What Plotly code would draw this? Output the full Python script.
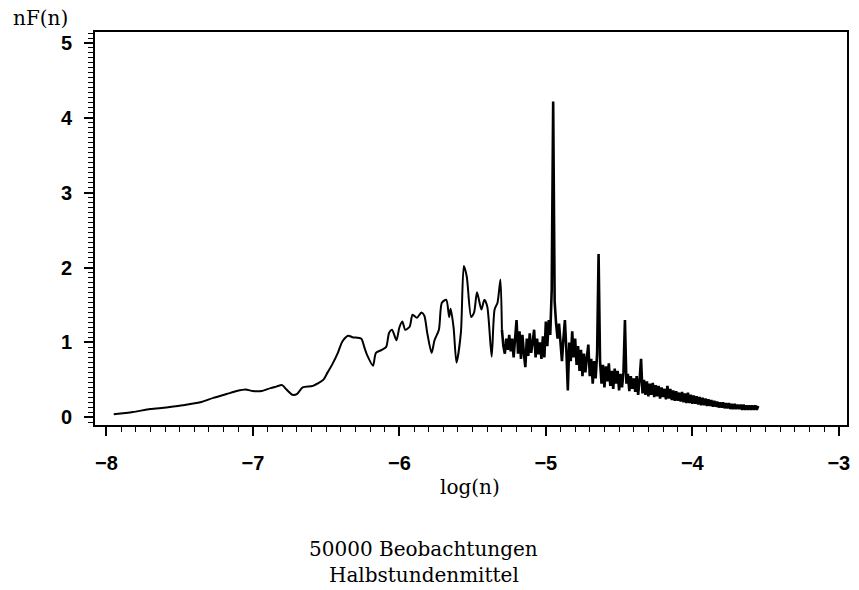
import numpy as np
import plotly.graph_objects as go

# smooth / low-frequency part (log10 frequency, nF(n))
x_low = [-7.95, -7.82, -7.70, -7.59, -7.48, -7.36, -7.27, -7.18, -7.11, -7.05,
         -7.00, -6.94, -6.88, -6.84, -6.80, -6.77, -6.73, -6.70, -6.66, -6.59,
         -6.52, -6.49, -6.46, -6.42, -6.39, -6.35, -6.32, -6.26, -6.24, -6.22,
         -6.18, -6.16, -6.12, -6.09, -6.07, -6.05, -6.02, -6.00, -5.98, -5.96,
         -5.93, -5.91, -5.88, -5.85, -5.83, -5.81, -5.78, -5.76, -5.73, -5.71,
         -5.68, -5.66, -5.65, -5.63, -5.61, -5.58, -5.56, -5.54, -5.51, -5.49,
         -5.47, -5.44, -5.42, -5.40, -5.37, -5.35, -5.33, -5.31, -5.30]
y_low = [0.04, 0.07, 0.11, 0.13, 0.16, 0.20, 0.26, 0.31, 0.35, 0.37,
         0.35, 0.35, 0.39, 0.41, 0.43, 0.37, 0.30, 0.31, 0.40, 0.42,
         0.50, 0.60, 0.70, 0.86, 1.01, 1.09, 1.07, 1.05, 0.94, 0.83,
         0.69, 0.86, 0.90, 0.94, 1.13, 1.17, 1.03, 1.20, 1.28, 1.17,
         1.21, 1.37, 1.33, 1.40, 1.36, 1.13, 0.86, 1.03, 1.17, 1.53,
         1.57, 1.34, 1.45, 1.20, 0.73, 1.13, 2.02, 1.88, 1.34, 1.40,
         1.67, 1.44, 1.57, 1.48, 0.81, 1.44, 1.53, 1.84, 1.17]

# high-frequency part on a 0.01 grid from -5.30 to -3.55
x_high = [round(v, 2) for v in np.arange(-5.30, -3.545, 0.01)]
y_high = [1.17, 0.95, 0.85, 1.05, 0.90, 1.10, 0.88, 1.05, 0.80, 1.00,
          1.30, 0.85, 1.15, 0.78, 1.10, 0.85, 0.67, 1.05, 0.82, 1.12,
          0.86, 1.00, 1.17, 0.80, 1.05, 0.84, 1.00, 0.78, 1.08, 0.80,
          1.28, 0.95, 1.30, 1.10, 1.70, 4.22, 1.55, 1.25, 1.05, 1.25,
          0.95, 0.75, 1.05, 1.30, 0.90, 0.36, 1.00, 0.75, 1.15, 0.80,
          1.05, 0.70, 0.95, 0.62, 0.90, 0.55, 0.85, 0.60, 0.80, 0.97,
          0.55, 0.78, 0.45, 0.75, 0.52, 0.85, 2.18, 0.75, 0.45, 0.70,
          0.40, 0.68, 0.48, 0.72, 0.42, 0.62, 0.38, 0.65, 0.45, 0.62,
          0.36, 0.58, 0.40, 0.60, 1.30, 0.45, 0.58, 0.35, 0.55, 0.38,
          0.52, 0.34, 0.55, 0.30, 0.50, 0.78, 0.32, 0.50, 0.30, 0.48,
          0.28, 0.45, 0.30, 0.46, 0.27, 0.43, 0.28, 0.42, 0.25, 0.40,
          0.27, 0.38, 0.24, 0.42, 0.25, 0.38, 0.23, 0.36, 0.22, 0.35,
          0.22, 0.33, 0.21, 0.34, 0.20, 0.32, 0.19, 0.33, 0.19, 0.30,
          0.18, 0.29, 0.18, 0.28, 0.17, 0.27, 0.16, 0.26, 0.16, 0.25,
          0.15, 0.24, 0.15, 0.23, 0.14, 0.22, 0.14, 0.21, 0.13, 0.20,
          0.13, 0.20, 0.12, 0.19, 0.12, 0.19, 0.11, 0.18, 0.11, 0.18,
          0.11, 0.17, 0.11, 0.17, 0.10, 0.17, 0.10, 0.16, 0.10, 0.16,
          0.10, 0.16, 0.10, 0.16, 0.10, 0.15]
y_high = y_high[:len(x_high)]

x_tick_vals = [-8, -7, -6, -5, -4, -3]
x_tick_text = ["\u22128", "\u22127", "\u22126", "\u22125", "\u22124", "\u22123"]
y_tick_vals = [0, 1, 2, 3, 4, 5]

fig = go.Figure()
fig.add_trace(go.Scatter(x=x_low, y=y_low, mode="lines",
                         line=dict(color="black", width=2.0, shape="spline", smoothing=0.7),
                         showlegend=False, hoverinfo="skip"))
fig.add_trace(go.Scatter(x=x_high, y=y_high, mode="lines",
                         line=dict(color="black", width=2.6),
                         showlegend=False, hoverinfo="skip"))

tickfont = dict(family="Liberation Sans", size=20, color="black", weight="bold")
serif = "DejaVu Serif"
fig.update_layout(
    width=859, height=590,
    margin=dict(l=95, r=9, t=32, b=165),
    paper_bgcolor="white", plot_bgcolor="white",
    xaxis=dict(range=[-8.078, -2.944], tickvals=x_tick_vals, ticktext=x_tick_text,
               ticks="outside", ticklen=9, tickwidth=1.6, tickcolor="black",
               showline=True, linecolor="black", linewidth=2, mirror=True,
               showgrid=False, zeroline=False, tickfont=tickfont,
               ticklabelstandoff=10,
               minor=dict(dtick=0.1, tick0=-8, ticks="outside", ticklen=5,
                          tickwidth=1.4, tickcolor="black", showgrid=False)),
    yaxis=dict(range=[-0.103, 5.147], tickvals=y_tick_vals,
               ticks="outside", ticklen=9, tickwidth=1.6, tickcolor="black",
               showline=True, linecolor="black", linewidth=2, mirror=True,
               showgrid=False, zeroline=False, tickfont=tickfont,
               ticklabelstandoff=8,
               minor=dict(dtick=1/15, tick0=0, ticks="outside", ticklen=5,
                          tickwidth=1.4, tickcolor="black", showgrid=False)),
    annotations=[
        dict(text="nF(n)", xref="paper", yref="paper", x=-0.073, y=1.036,
             xanchor="center", yanchor="middle", showarrow=False,
             font=dict(family=serif, size=20, color="black")),
        dict(text="log(n)", xref="paper", yref="paper", x=0.499, y=-0.158,
             xanchor="center", yanchor="middle", showarrow=False,
             font=dict(family=serif, size=20, color="black")),
        dict(text="50000 Beobachtungen", xref="paper", yref="paper", x=0.437, y=-0.315,
             xanchor="center", yanchor="middle", showarrow=False,
             font=dict(family=serif, size=20, color="black")),
        dict(text="Halbstundenmittel", xref="paper", yref="paper", x=0.437, y=-0.381,
             xanchor="center", yanchor="middle", showarrow=False,
             font=dict(family=serif, size=20, color="black")),
    ],
)
fig.write_html("out.html")
